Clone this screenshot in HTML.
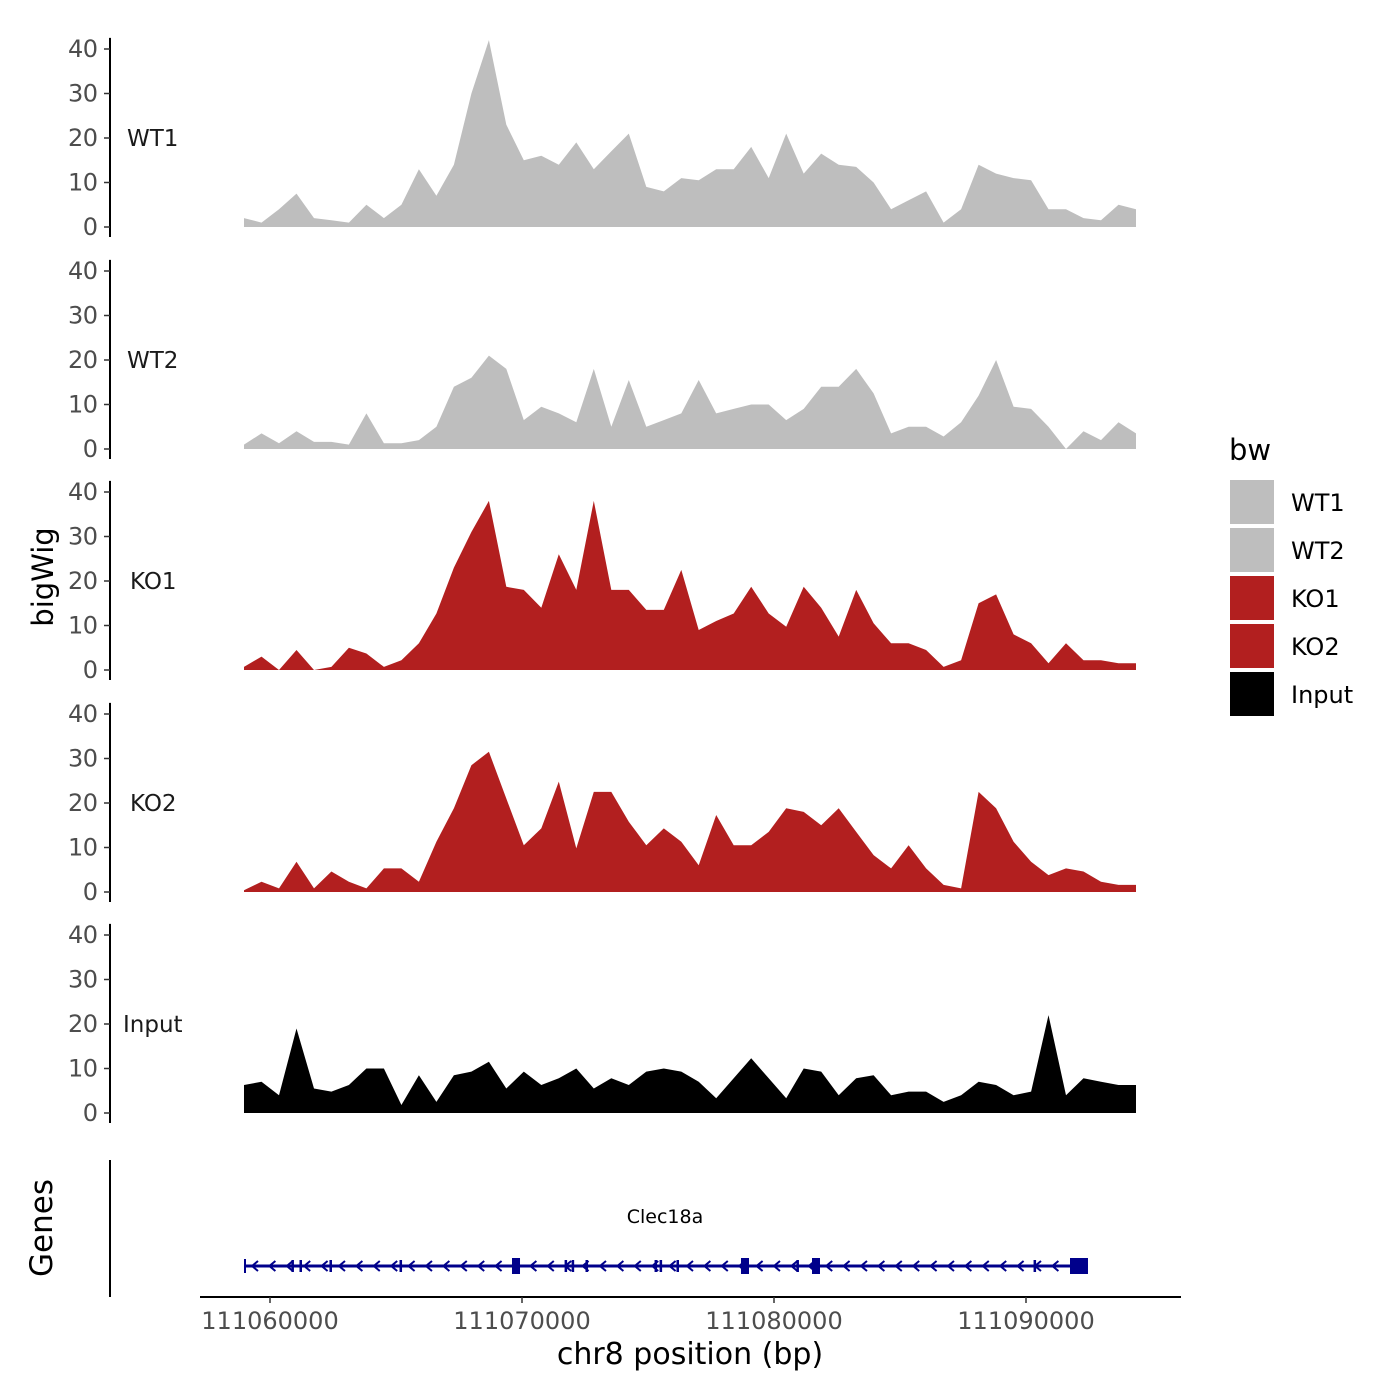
<!DOCTYPE html>
<html><head><meta charset="utf-8"><style>
body{margin:0;background:#fff}
svg{display:block;font-family:"DejaVu Sans","Liberation Sans",sans-serif}
</style></head><body>
<svg id="chart" width="1400" height="1400" viewBox="0 0 1400 1400" xmlns="http://www.w3.org/2000/svg"></svg>
<script>
const trackNames = ["WT1","WT2","KO1","KO2","Input"];
const trackColors = ["#bebebe","#bebebe","#b21f1f","#b21f1f","#000000"];
const yTicks = [0,10,20,30,40];
const xTickLabels = ["111060000","111070000","111080000","111090000"];
const xTickValues = [111060000,111070000,111080000,111090000];
const dataStart = 111058968, dataEnd = 111094365;
const wt1 = [2,1,4,7.5,2,1.5,1,5,2,5,13,7,14,30,42,23,15,16,14,19,13,17,21,9,8,11,10.5,13,13,18,11,21,12,16.5,14,13.5,10,4,6,8,1,4,14,12,11,10.5,4,4,2,1.5,5,4];
const wt2 = [1,3.5,1.3,4,1.6,1.6,1,8,1.3,1.3,2,5,14,16,21,18,6.5,9.5,8,6,18,5,15.5,5,6.5,8,15.5,8,9,10,10,6.5,9,14,14,18,12.5,3.5,5,5,2.8,6,12,20,9.5,9,5,0,4,2,6,3.5];
const ko1 = [0.7,3,0,4.5,0,0.7,5,3.7,0.7,2.2,6,12.7,23,31,38,18.7,18,14,26,18,38,18,18,13.5,13.5,22.5,9,11,12.7,18.7,12.7,9.7,18.7,14,7.5,18,10.5,6,6,4.5,0.7,2.2,15,17,8,6,1.5,6,2.2,2.2,1.5,1.5];
const ko2 = [0.4,2.3,0.8,6.8,0.8,4.6,2.3,0.8,5.3,5.3,2.3,11.3,18.8,28.5,31.5,21,10.5,14.3,24.8,9.8,22.5,22.5,15.8,10.5,14.3,11.3,6,17.3,10.5,10.5,13.5,18.8,18,15,18.8,13.5,8.3,5.3,10.5,5.3,1.6,0.8,22.5,18.8,11.3,6.8,3.8,5.3,4.6,2.3,1.6,1.6];
const input = [6.3,7,4,19,5.5,4.8,6.3,10,10,1.8,8.5,2.5,8.5,9.3,11.5,5.5,9.3,6.3,7.8,10,5.5,7.8,6.3,9.3,10,9.3,7,3.3,7.8,12.3,7.8,3.3,10,9.3,4,7.8,8.5,4,4.8,4.8,2.5,4,7,6.3,4,4.8,22,4,7.8,7,6.3,6.3];
const allTracks = [wt1,wt2,ko1,ko2,input];
const geneStart = 111058968, geneEnd = 111092460;
const exonStarts = [111060850,111061170,111062360,111065140,111069603,111071690,111071970,111072520,111075260,111075460,111076130,111078690,111080890,111081508,111090300,111091746];
const exonEnds   = [111060950,111061270,111062460,111065240,111069921,111071790,111072070,111072620,111075360,111075560,111076230,111079008,111080990,111081825,111090400,111092460];
const exonTall   = [0,0,0,0,1,0,0,0,0,0,0,1,0,1,0,1];

const NS="http://www.w3.org/2000/svg";
const svg=document.getElementById('chart');
function mk(tag,attrs,parent){const e=document.createElementNS(NS,tag);for(const k in attrs)e.setAttribute(k,attrs[k]);(parent||svg).appendChild(e);return e;}
function xs(v){return 270+(v-111060000)*(252/10000);}
const baselines=[227,449,670,892,1113];
function ys(i,v){return baselines[i]-v*4.45;}

allTracks.forEach((arr,i)=>{
  const g=mk('g',{});
  
  
  const n=arr.length;
  let d='M'+xs(dataStart)+','+baselines[i];
  arr.forEach((v,k)=>{const bp=dataStart+(dataEnd-dataStart)*k/(n-1);d+=' L'+xs(bp).toFixed(1)+','+ys(i,v).toFixed(1);});
  d+=' L'+xs(dataEnd)+','+baselines[i]+' Z';
  const p=mk('path',{d:d,fill:trackColors[i]},g);
  
  
  const ax=mk('line',{x1:110,x2:110,y1:ys(i,42.5),y2:baselines[i]+10,stroke:'#000','stroke-width':2},g);
  
  
  yTicks.forEach(t=>{
    mk('line',{x1:104,x2:110,y1:ys(i,t),y2:ys(i,t),stroke:'#333','stroke-width':1.5},g);
    const tx=mk('text',{x:98,y:ys(i,t)+8,'text-anchor':'end','font-size':24,'textLength':t==0?15:30,fill:'#4d4d4d'},g);
    tx.textContent=t;
    
    
  });
  const lb=mk('text',{x:i==4?123:(i>=2?130:127),y:ys(i,20)+8,'font-size':23,fill:'#1a1a1a'},g);
  lb.textContent=trackNames[i];
  
  
});

const yt=mk('text',{x:0,y:0,transform:'translate(53,577) rotate(-90)','text-anchor':'middle','font-size':29});
yt.textContent='bigWig';



const gg=mk('g',{});


mk('line',{x1:110,x2:110,y1:1160,y2:1297,stroke:'#000','stroke-width':2},gg);
const gt=mk('text',{x:0,y:0,transform:'translate(52,1228) rotate(-90)','text-anchor':'middle','font-size':31},gg);
gt.textContent='Genes';


const gy=1266;
mk('line',{x1:xs(geneStart),x2:xs(geneEnd),y1:gy,y2:gy,stroke:'#00008b','stroke-width':3},gg);
for(let x=xs(geneStart)+10;x<xs(geneEnd)-8;x+=17.4){
  mk('polyline',{points:(x+4)+','+(gy-5)+' '+(x-2)+','+gy+' '+(x+4)+','+(gy+5),fill:'none',stroke:'#00008b','stroke-width':2},gg);
}
mk('line',{x1:xs(geneStart)+1,x2:xs(geneStart)+1,y1:gy-7,y2:gy+7,stroke:'#00008b','stroke-width':2},gg);
exonStarts.forEach((s,k)=>{
  const h=exonTall[k]?16:12;
  const r=mk('rect',{x:xs(s),y:gy-h/2,width:Math.max(2.5,xs(exonEnds[k])-xs(s)),height:h,fill:'#00008b'},gg);
  
  
});
const gl=mk('text',{x:665,y:1223,'text-anchor':'middle','font-size':19},gg);
gl.textContent='Clec18a';



const xa=mk('line',{x1:200,x2:1181,y1:1297,y2:1297,stroke:'#000','stroke-width':2});


xTickValues.forEach((v,k)=>{
  mk('line',{x1:xs(v),x2:xs(v),y1:1297,y2:1303,stroke:'#333','stroke-width':1.5});
  const t=mk('text',{x:xs(v),y:1329,'text-anchor':'middle','font-size':24,fill:'#4d4d4d'});
  t.textContent=xTickLabels[k];
  
  
});
const xt=mk('text',{x:690,y:1364,'text-anchor':'middle','font-size':30});
xt.textContent='chr8 position (bp)';



const lg=mk('g',{});


const lt=mk('text',{x:1229,y:460,'font-size':29},lg);
lt.textContent='bw';
trackNames.forEach((n,k)=>{
  const e=mk('g',{},lg);
  
  
  mk('rect',{x:1230,y:480+k*48,width:44,height:44,fill:trackColors[k]},e);
  const t=mk('text',{x:1291,y:511+k*48,'font-size':24},e);
  t.textContent=n;
});
</script>
</body></html>
